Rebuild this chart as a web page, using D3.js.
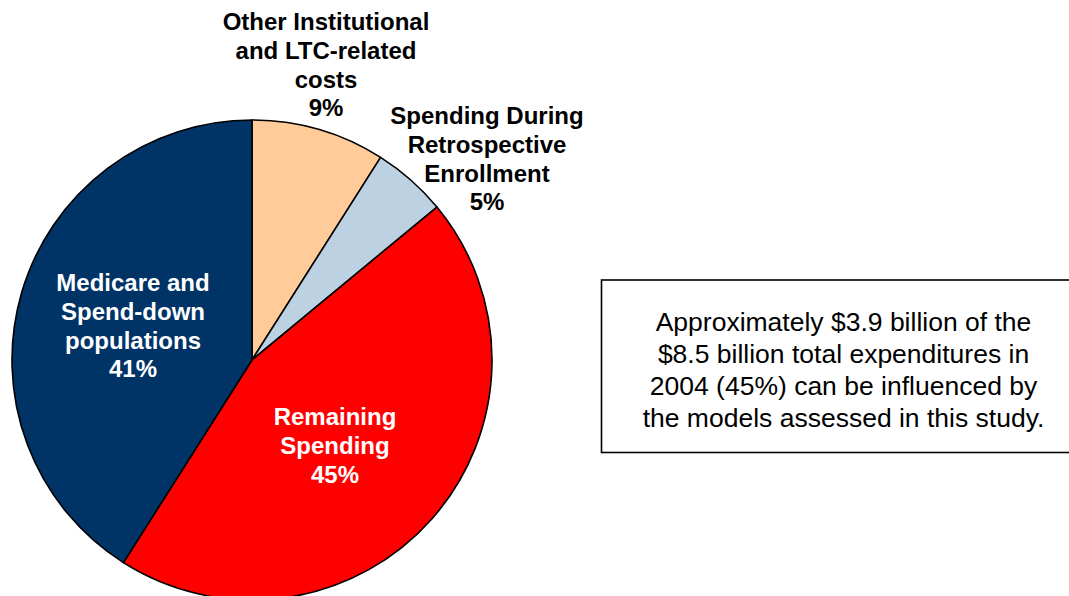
<!DOCTYPE html>
<html><head><meta charset="utf-8">
<script src="https://cdn.jsdelivr.net/npm/d3@7"></script>
<style>body{margin:0;background:#fff}svg{display:block}</style>
</head><body>
<svg id="c" width="1069" height="596"></svg>
<script>
const categories = ["Other Institutional and LTC-related costs","Spending During Retrospective Enrollment","Remaining Spending","Medicare and Spend-down populations"];
const values = [9, 5, 45, 41];
const labelLines = [
  ["Other Institutional","and LTC-related","costs","9%"],
  ["Spending During","Retrospective","Enrollment","5%"],
  ["Remaining","Spending","45%"],
  ["Medicare and","Spend-down","populations","41%"]
];
const colors = ["#FFCC99","#BCD2E2","#FF0000","#003366"];
const labelColors = ["#000","#000","#fff","#fff"];
const labelAnchor = [[326,22],[487,116],[335,417],[133,283]];
const noteLines = ["Approximately $3.9 billion of the","$8.5 billion total expenditures in","2004 (45%) can be influenced by","the models assessed in this study."];

const svg = d3.select("#c");
const cx = 252, cy = 360, r = 240;
const pie = d3.pie().sort(null).value(d=>d)(values);
const arc = d3.arc().innerRadius(0).outerRadius(r);
const g = svg.append("g").attr("transform",`translate(${cx},${cy})`);
g.selectAll("path").data(pie).join("path")
  .attr("d",arc).attr("fill",(d,i)=>colors[i])
  .attr("stroke","#000").attr("stroke-width",1.6).attr("stroke-linejoin","round");

labelLines.forEach((lines,i)=>{
  const t = svg.append("text").attr("text-anchor","middle")
    .attr("font-family","Liberation Sans, Arial, sans-serif").attr("font-weight","bold")
    .attr("font-size",24).attr("fill",labelColors[i]);
  lines.forEach((l,j)=>{
    t.append("tspan").attr("x",labelAnchor[i][0]).attr("y",labelAnchor[i][1]+j*28.6).attr("dy","0.35em").text(l);
  });
});

svg.append("rect").attr("x",601.5).attr("y",280).attr("width",500).attr("height",172.5)
  .attr("fill","#fff").attr("stroke","#000").attr("stroke-width",1.6);
const nt = svg.append("text").attr("text-anchor","middle")
  .attr("font-family","Liberation Sans, Arial, sans-serif").attr("font-size",26.5).attr("fill","#000");
noteLines.forEach((l,j)=>{
  nt.append("tspan").attr("x",843.5).attr("y",322+j*32).attr("dy","0.35em").text(l);
});
</script>
</body></html>
